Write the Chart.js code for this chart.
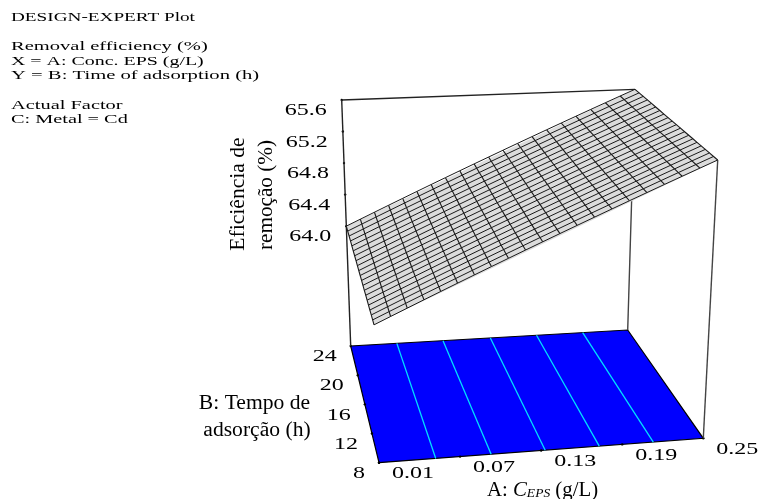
<!DOCTYPE html>
<html>
<head>
<meta charset="utf-8">
<title>Removal efficiency</title>
<script src="https://cdn.jsdelivr.net/npm/chart.js@4"></script>
<style>
  html, body { margin: 0; padding: 0; background: #fff; }
  canvas { display: block; }
</style>
</head>
<body>
<canvas id="plot" width="762" height="499"></canvas>
<script>
// grid of the response surface
const concA = [0.010, 0.022, 0.034, 0.046, 0.058, 0.070, 0.082, 0.094, 0.106, 0.118, 0.130,
               0.142, 0.154, 0.166, 0.178, 0.190, 0.202, 0.214, 0.226, 0.238, 0.250];
const timeB = [8.0, 8.8, 9.6, 10.4, 11.2, 12.0, 12.8, 13.6, 14.4, 15.2, 16.0,
               16.8, 17.6, 18.4, 19.2, 20.0, 20.8, 21.6, 22.4, 23.2, 24.0];
// removal efficiency for each concA, it does not change with time
const removal = [64.00, 64.08, 64.16, 64.24, 64.32, 64.40, 64.48, 64.56, 64.64, 64.72, 64.80,
                 64.88, 64.96, 65.04, 65.12, 65.20, 65.28, 65.36, 65.44, 65.52, 65.60];

// contour lines on the floor, concA where each one meets B=24 and B=8
const contourBack = [0.050, 0.090, 0.131, 0.171, 0.211];
const contourFront = [0.052, 0.093, 0.133, 0.173, 0.213];

const ticksA = [0.01, 0.07, 0.13, 0.19, 0.25];
const ticksB = [8, 12, 16, 20, 24];
const ticksZ = [64.0, 64.4, 64.8, 65.2, 65.6];
const labelsA = ["0.01", "0.07", "0.13", "0.19", "0.25"];
const labelsB = ["8", "12", "16", "20", "24"];
const labelsZ = ["64.0", "64.4", "64.8", "65.2", "65.6"];

const headerLines = ["DESIGN-EXPERT Plot", "Removal efficiency (%)", "X = A: Conc. EPS (g/L)",
                     "Y = B: Time of adsorption (h)", "Actual Factor", "C: Metal = Cd"];
const headerY = [18, 47, 62, 76, 106, 120];
const headerStretch = [1.6, 1.71, 1.66, 1.72, 1.7, 1.69];

// box of the 3D view on the page: [back left, back right, front right, front left]
const floorBox = [[350.7, 346], [627.7, 330], [703.3, 438.3], [379, 462.7]];
const topBox = [[341.7, 100], [635, 89.3], [717.7, 160], [368.8, 179.7]];
const zFloor = 62.48, zTop = 65.6;

function lerp(p, q, t) { return p + (q - p) * t; }

function project(a, b, z) {
    const u = (a - 0.01) / 0.24, v = (24 - b) / 16, w = (z - zFloor) / (zTop - zFloor);
    const corner = (box, i) => lerp(
        lerp(box[0][i], box[1][i], u),
        lerp(box[3][i], box[2][i], u), v);
    return {
        x: lerp(corner(floorBox, 0), corner(topBox, 0), w),
        y: lerp(corner(floorBox, 1), corner(topBox, 1), w)
    };
}

function line(points, color, width) {
    return { data: points, showLine: true, borderColor: color, borderWidth: width, pointRadius: 0, fill: false, tension: 0 };
}

function tickDots(points) {
    return { data: points, showLine: false, pointRadius: 1.2, pointBackgroundColor: "#000", pointBorderWidth: 0 };
}

const aMin = concA[0], aMax = concA[concA.length - 1];
const bMin = timeB[0], bMax = timeB[timeB.length - 1];

// first dataset ends up on top
const datasets = [];

// surface mesh
concA.forEach((a, i) => {
    datasets.push(line(timeB.map(b => project(a, b, removal[i])), "#1a1a1a", 1.1));
});
timeB.forEach(b => {
    datasets.push(line(concA.map((a, i) => project(a, b, removal[i])), "#1a1a1a", 1));
});
const last = removal.length - 1;
datasets.push({
    data: [project(aMin, bMin, removal[0]), project(aMax, bMin, removal[last]),
           project(aMax, bMax, removal[last]), project(aMin, bMax, removal[0])],
    showLine: true, fill: "shape", backgroundColor: "#dcdcdc", borderWidth: 0, pointRadius: 0
});

// box edges
datasets.push(line([project(aMin, bMax, zTop), project(aMax, bMax, zTop)], "#222", 1.3));
datasets.push(line([project(aMin, bMax, zFloor), project(aMin, bMax, zTop)], "#222", 1.4));
datasets.push(line([project(aMax, bMax, zFloor), project(aMax, bMax, zTop)], "#444", 1.4));
datasets.push(line([project(aMax, bMin, zFloor), project(aMax, bMin, zTop)], "#444", 1.4));

// floor
datasets.push(tickDots(ticksZ.map(z => project(aMin, bMax, z))));
datasets.push(tickDots(ticksA.map(a => project(a, bMin, zFloor))));
datasets.push(tickDots(ticksB.map(b => project(aMin, b, zFloor))));
contourBack.forEach((a, i) => {
    datasets.push(line([project(a, bMax, zFloor), project(contourFront[i], bMin, zFloor)], "#00e0ff", 1.3));
});
datasets.push({
    data: [project(aMin, bMin, zFloor), project(aMax, bMin, zFloor),
           project(aMax, bMax, zFloor), project(aMin, bMax, zFloor), project(aMin, bMin, zFloor)],
    showLine: true, fill: "shape", backgroundColor: "#0000ff", borderColor: "#000", borderWidth: 1.2, pointRadius: 0
});

function drawLabel(ctx, str, x, y, font, sx, align, rot) {
    ctx.save();
    ctx.translate(x, y);
    if (rot) ctx.rotate(rot);
    ctx.scale(sx, 1);
    ctx.font = font;
    ctx.textAlign = align || "center";
    ctx.textBaseline = "middle";
    ctx.fillStyle = "#000";
    ctx.fillText(str, 0, 0);
    ctx.restore();
}

// texts around the plot, placed from the same scales as the marks
const plotText = {
    id: "plotText",
    afterDraw(chart) {
        const ctx = chart.ctx;
        const sx = chart.scales.x, sy = chart.scales.y;
        const px = p => ({ x: sx.getPixelForValue(p.x), y: sy.getPixelForValue(p.y) });
        const tickFont = "16px 'Liberation Serif'";

        headerLines.forEach((h, i) => drawLabel(ctx, h, 11, headerY[i], "12px 'Liberation Serif'", headerStretch[i], "left"));

        ticksZ.forEach((z, i) => {
            const p = px(project(aMin, bMax, z));
            drawLabel(ctx, labelsZ[i], p.x - 36, p.y + 11, tickFont, 1.5);
        });
        ticksB.forEach((b, i) => {
            const p = px(project(aMin, b, zFloor));
            drawLabel(ctx, labelsB[i], p.x - 14, p.y + 11, tickFont, 1.5, "right");
        });
        ticksA.forEach((a, i) => {
            const p = px(project(a, bMin, zFloor));
            drawLabel(ctx, labelsA[i], p.x + 34, p.y + 11.5, tickFont, 1.5);
        });

        const titleFont = "20px 'Liberation Serif'";
        drawLabel(ctx, "Eficiência de", 239, 194, titleFont, 1.08, "center", -Math.PI / 2);
        drawLabel(ctx, "remoção (%)", 267, 195, titleFont, 1.06, "center", -Math.PI / 2);
        drawLabel(ctx, "B: Tempo de", 254.5, 404, titleFont, 1.08);
        drawLabel(ctx, "adsorção (h)", 257, 431, titleFont, 1.08);

        // A: C_EPS (g/L), the subscript needs its own font
        let x = 487;
        const parts = [["A: ", titleFont, 0], ["C", "italic 20px 'Liberation Serif'", 0],
                       ["EPS", "italic 13px 'Liberation Serif'", 3], [" (g/L)", titleFont, 0]];
        parts.forEach(part => {
            drawLabel(ctx, part[0], x, 491 + part[2], part[1], 1.04, "left");
            ctx.save();
            ctx.font = part[1];
            x += ctx.measureText(part[0]).width * 1.04;
            ctx.restore();
        });
    }
};

new Chart(document.getElementById("plot"), {
    type: "scatter",
    data: { datasets: datasets },
    options: {
        responsive: false,
        animation: false,
        events: [],
        layout: { padding: 0, autoPadding: false },
        plugins: { legend: { display: false }, tooltip: { enabled: false } },
        scales: {
            x: { type: "linear", min: 0, max: 762, display: false },
            y: { type: "linear", min: 0, max: 499, reverse: true, display: false }
        }
    },
    plugins: [plotText]
});
</script>
</body>
</html>
